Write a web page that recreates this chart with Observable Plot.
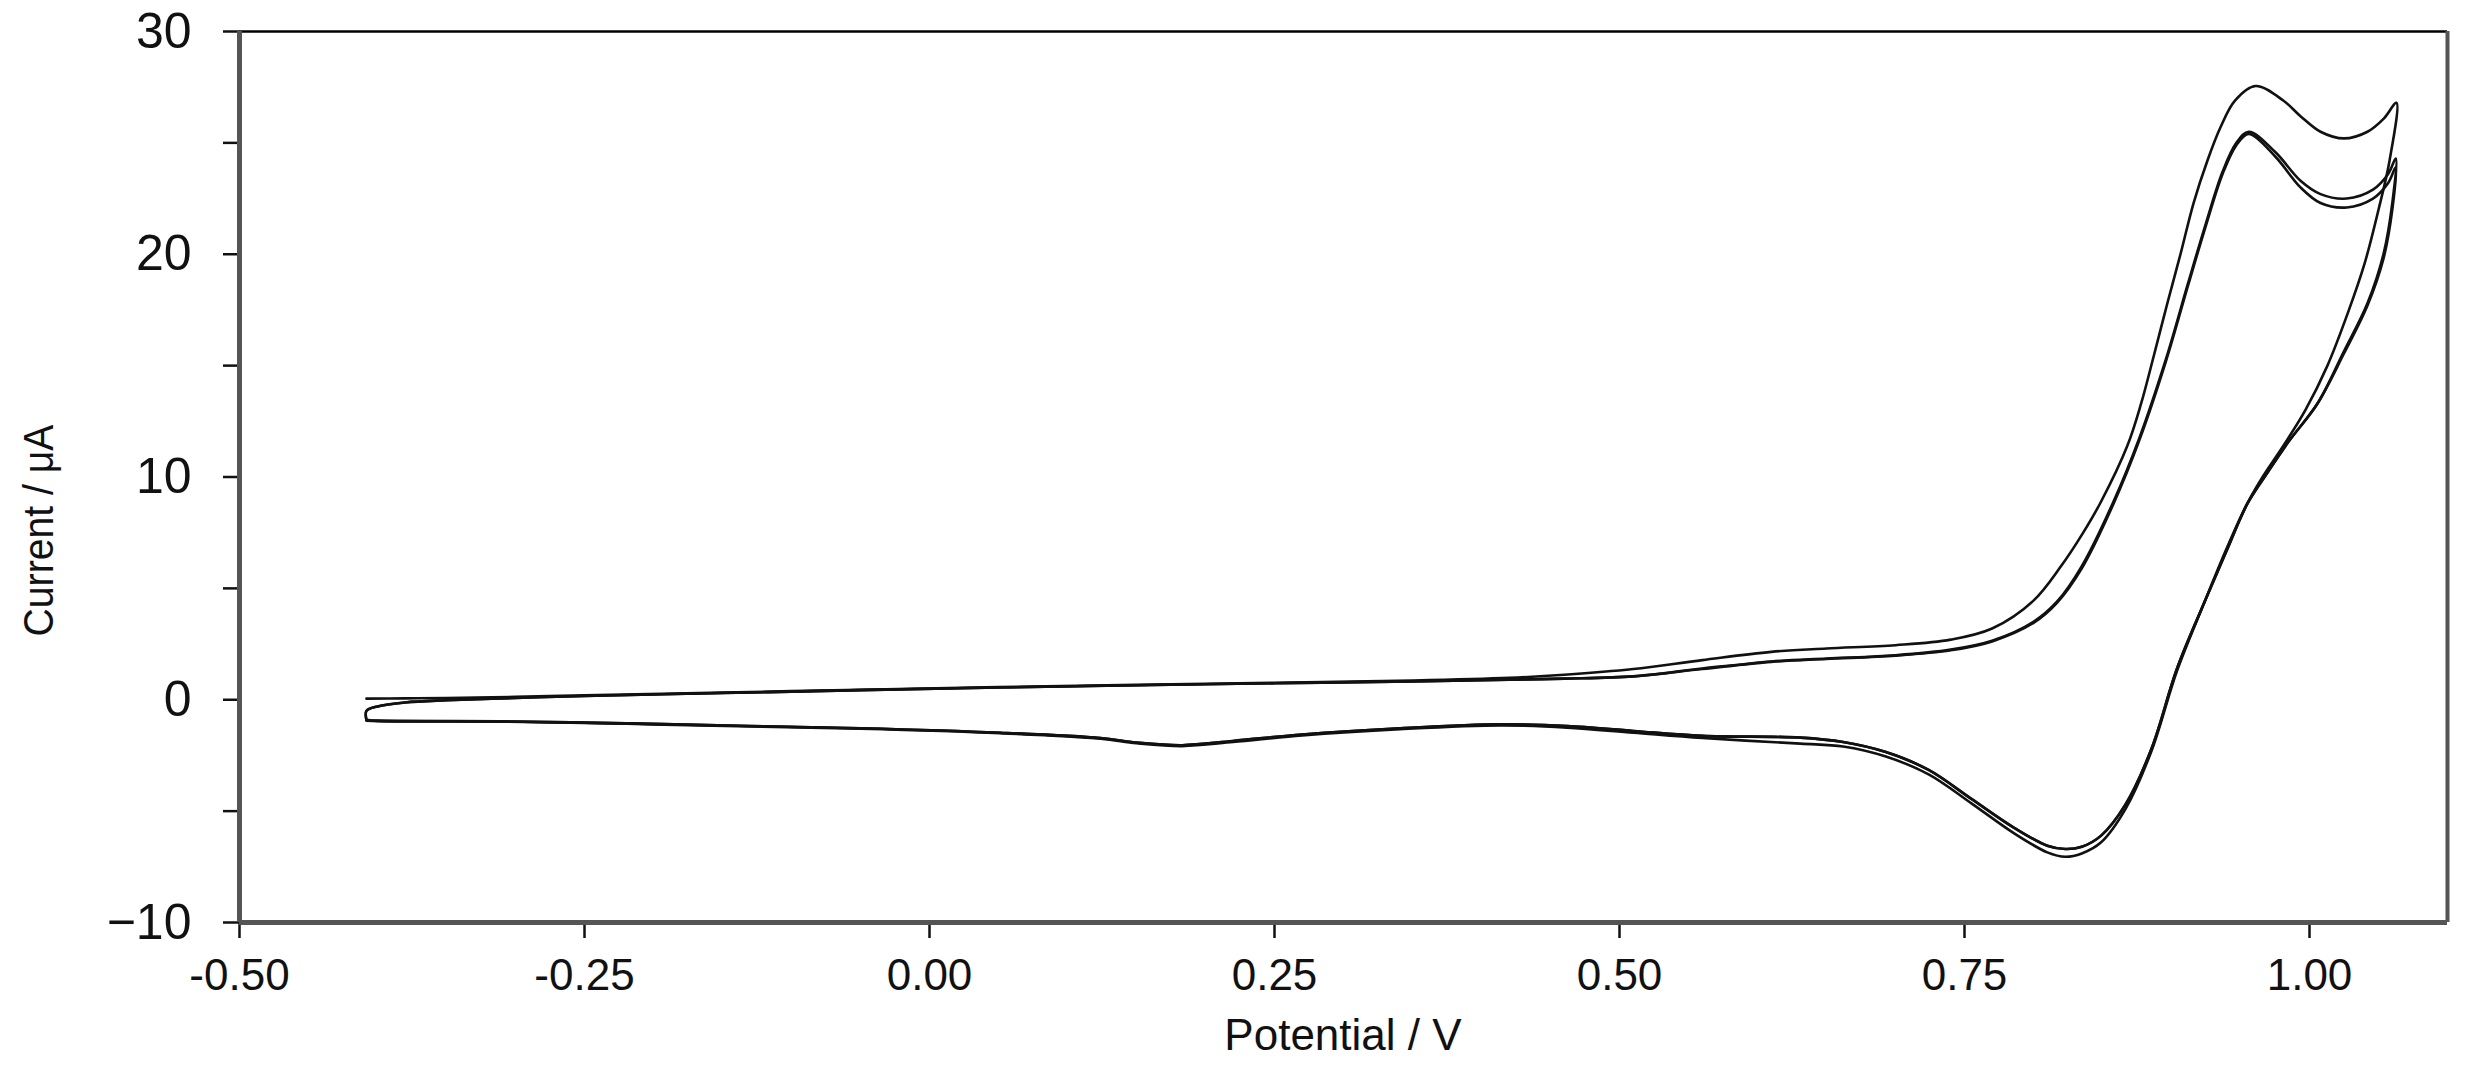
<!DOCTYPE html>
<html><head><meta charset="utf-8">
<script src="https://cdn.jsdelivr.net/npm/d3@7"></script>
<script src="https://cdn.jsdelivr.net/npm/@observablehq/plot@0.6"></script>
<style>html,body{margin:0;padding:0;background:#fff} svg{display:block}</style>
</head><body><div id="chart"></div>
<script>
const xTicks = [-0.5, -0.25, 0, 0.25, 0.5, 0.75, 1.0];
const yTicks = [-10, -5, 0, 5, 10, 15, 20, 25, 30];
const cycles = ["Cycle 1", "Cycle 2", "Cycle 3"];

// Cycle 1: forward scan then reverse scan (Potential / V, Current / µA)
const c1Potential = [-0.408,-0.38,-0.35,-0.30,-0.25,-0.15,-0.05,0.05,0.15,0.25,0.35,0.42,0.46,0.51,0.56,0.61,0.65,0.70,0.74,0.77,0.80,0.82,0.835,0.849,0.868,0.878,0.887,0.897,0.9065,0.916,0.926,0.9355,0.946,0.961,0.981,0.9935,1.008,1.025,1.042,1.054,1.063,
  1.058,1.050,1.040,1.028,1.013,0.997,0.98,0.965,0.954,0.94,0.924,0.904,0.8855,0.8667,0.849,0.835,0.823,0.81,0.786,0.755,0.724,0.693,0.662,0.631,0.56,0.51,0.462,0.414,0.341,0.27,0.22,0.183,0.15,0.124,0.051,-0.05,-0.13,-0.22,-0.311,-0.40,-0.408];
const c1Current = [0.05,0.06,0.08,0.13,0.2,0.32,0.45,0.57,0.67,0.76,0.86,0.98,1.12,1.38,1.78,2.15,2.3,2.45,2.7,3.2,4.45,6.0,7.4,8.9,11.4,13.3,15.4,17.8,20.0,22.3,24.2,25.7,26.9,27.55,26.9,26.2,25.5,25.2,25.5,26.1,26.8,
  24.2,22.0,19.6,17.4,15.0,13.0,11.3,9.9,8.7,6.8,4.4,1.3,-2.3,-4.9,-6.4,-6.9,-7.05,-6.85,-6.0,-4.65,-3.35,-2.55,-2.1,-1.97,-1.72,-1.48,-1.25,-1.15,-1.32,-1.6,-1.9,-2.08,-1.95,-1.75,-1.5,-1.3,-1.2,-1.08,-0.98,-0.95,-0.9];

// Cycle 2
const c2Potential = [-0.408,-0.408,-0.40,-0.38,-0.35,-0.30,-0.25,-0.15,-0.05,0.05,0.15,0.25,0.35,0.42,0.46,0.51,0.56,0.61,0.65,0.70,0.74,0.77,0.80,0.817,0.835,0.858,0.877,0.896,0.912,0.925,0.937,0.947,0.956,0.975,0.9935,1.008,1.027,1.046,1.057,1.0625,
  1.060,1.0536,1.042,1.0246,1.0058,0.985,0.9696,0.955,0.94,0.924,0.904,0.8855,0.8667,0.849,0.835,0.823,0.81,0.786,0.755,0.724,0.693,0.662,0.631,0.56,0.51,0.462,0.414,0.341,0.27,0.22,0.183,0.15,0.124,0.051,-0.05,-0.13,-0.22,-0.311,-0.40,-0.408];
const c2Current = [-0.9,-0.5,-0.3,-0.12,-0.02,0.08,0.17,0.3,0.43,0.55,0.65,0.74,0.82,0.9,0.95,1.05,1.4,1.72,1.85,2.0,2.25,2.65,3.5,4.4,6.0,8.9,11.8,15.3,18.7,21.4,23.7,25.0,25.5,24.6,23.3,22.7,22.5,22.9,23.6,24.3,
  22.3,20.0,17.8,15.6,13.3,11.6,10.2,8.8,6.7,4.4,1.4,-2.2,-4.7,-6.1,-6.6,-6.7,-6.55,-5.75,-4.45,-3.15,-2.35,-1.9,-1.7,-1.62,-1.4,-1.18,-1.1,-1.28,-1.56,-1.85,-2.04,-1.92,-1.72,-1.48,-1.28,-1.18,-1.06,-0.97,-0.95,-0.92];

// Cycle 3
const c3Potential = [-0.408,-0.408,-0.40,-0.38,-0.35,-0.30,-0.25,-0.15,-0.05,0.05,0.15,0.25,0.35,0.42,0.46,0.51,0.56,0.61,0.65,0.70,0.74,0.77,0.80,0.817,0.835,0.858,0.877,0.896,0.912,0.925,0.937,0.947,0.956,0.975,0.9935,1.008,1.027,1.046,1.057,1.0625,
  1.060,1.0536,1.042,1.0246,1.0058,0.985,0.9696,0.955,0.94,0.924,0.904,0.8855,0.8667,0.849,0.835,0.823,0.81,0.786,0.755,0.724,0.693,0.662,0.631,0.56,0.51,0.462,0.414,0.341,0.27,0.22,0.183,0.15,0.124,0.051,-0.05,-0.13,-0.22,-0.311,-0.40,-0.408];
const c3Current = [-0.92,-0.5,-0.3,-0.12,-0.02,0.08,0.17,0.3,0.43,0.55,0.65,0.74,0.82,0.9,0.95,1.05,1.38,1.7,1.83,1.98,2.22,2.62,3.45,4.35,5.9,8.8,11.7,15.2,18.6,21.3,23.6,24.9,25.4,24.4,23.0,22.3,22.1,22.5,23.2,23.9,
  22.0,19.8,17.7,15.5,13.3,11.6,10.2,8.8,6.7,4.4,1.4,-2.2,-4.7,-6.1,-6.6,-6.7,-6.55,-5.75,-4.45,-3.15,-2.35,-1.9,-1.7,-1.62,-1.4,-1.18,-1.1,-1.28,-1.56,-1.85,-2.04,-1.92,-1.72,-1.48,-1.28,-1.18,-1.06,-0.97,-0.95,-0.94];

const series = [[c1Potential, c1Current], [c2Potential, c2Current], [c3Potential, c3Current]];
const rows = [];
series.forEach(([E, I], k) => E.forEach((e, i) => rows.push({cycle: cycles[k], E: e, I: I[i], order: i})));

const font = "'Liberation Sans', Arial, Helvetica, sans-serif";
const W = 2471, H = 1075, ML = 239, MR = 24, MT = 31, MB = 153;

const plot = Plot.plot({
  width: W, height: H,
  marginLeft: ML, marginRight: MR, marginTop: MT, marginBottom: MB,
  x: {domain: [-0.5, 1.1]},
  y: {domain: [-10, 30]},
  style: {fontFamily: font, background: "#fff", color: "#111", overflow: "visible"},
  marks: [
    Plot.axisY({ticks: yTicks, tickSize: 16, tickPadding: 32, strokeWidth: 2.5, fontSize: 50,
      tickFormat: d => d % 10 === 0 ? (d < 0 ? "\u2212" + Math.abs(d) : String(d)) : "", label: null}),
    Plot.axisX({ticks: xTicks, tickSize: 16, tickPadding: 20, strokeWidth: 2.5, fontSize: 44,
      tickFormat: d => d.toFixed(2), label: null}),
    Plot.ruleY([30], {stroke: "#000", strokeWidth: 2.5}),
    Plot.ruleX([1.1], {stroke: "#555", strokeWidth: 4}),
    Plot.ruleY([-10], {stroke: "#555", strokeWidth: 5}),
    Plot.ruleX([-0.5], {stroke: "#555", strokeWidth: 5}),
    Plot.line(rows, {x: "E", y: "I", z: "cycle", stroke: "#111", strokeWidth: 2.6, curve: "catmull-rom"})
  ]
});

const svg = d3.select(plot);
svg.append("text")
  .attr("x", (ML + W - MR) / 2).attr("y", 1050)
  .attr("text-anchor", "middle").attr("font-size", 44).attr("font-family", font).attr("fill", "#111")
  .text("Potential / V");
svg.append("text")
  .attr("transform", `translate(53,${(MT + H - MB) / 2 + 54}) rotate(-90)`)
  .attr("text-anchor", "middle").attr("font-size", 43).attr("font-family", font).attr("fill", "#111")
  .attr("textLength", 212).attr("lengthAdjust", "spacingAndGlyphs")
  .text("Current / \u03bcA");

document.getElementById("chart").appendChild(plot);
</script>
</body></html>
